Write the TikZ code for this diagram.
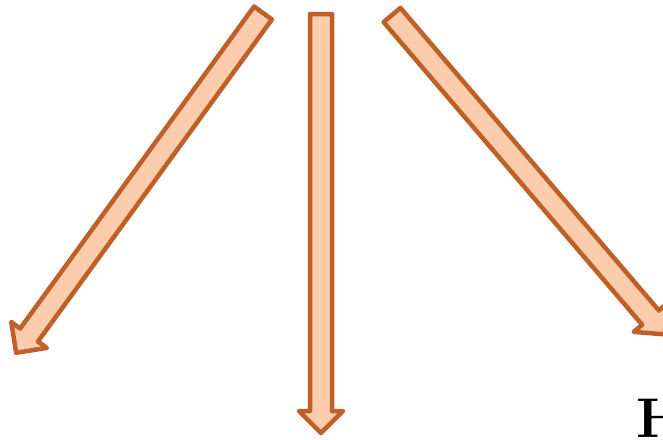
\documentclass[tikz,border=0pt]{standalone}
\usepackage{xcolor}
\usepackage{tikz}
\definecolor{peachfill}{RGB}{252,204,172}
\definecolor{rustline}{RGB}{190,96,40}
\tikzset{
  fatarr/.style   ={draw=rustline, fill=peachfill, line width=4.5pt, line join=round},
  bigletter/.style={font=\fontsize{56}{60}\selectfont\bfseries, inner sep=0pt, anchor=base west},
}
\begin{document}
\begin{tikzpicture}[x=1pt,y=-1pt]
\useasboundingbox (0,0) rectangle (663,439);
\clip (0,0) rectangle (663,439);
% block arrows: start x/y, direction, length
\foreach \sx/\sy/\ang/\len in {263/13/-126/420, 321/14/-90/419, 392/15/-49.5/420}{
  \begin{scope}[shift={(\sx,\sy)}, rotate=\ang]
    \draw[fatarr] (0,-11) -- (\len-22,-11) -- (\len-22,-22) -- (\len,0)
      -- (\len-22,22) -- (\len-22,11) -- (0,11) -- cycle;
  \end{scope}
}
\node[bigletter] (hword) at (636,437) {H};
\end{tikzpicture}
\end{document}
